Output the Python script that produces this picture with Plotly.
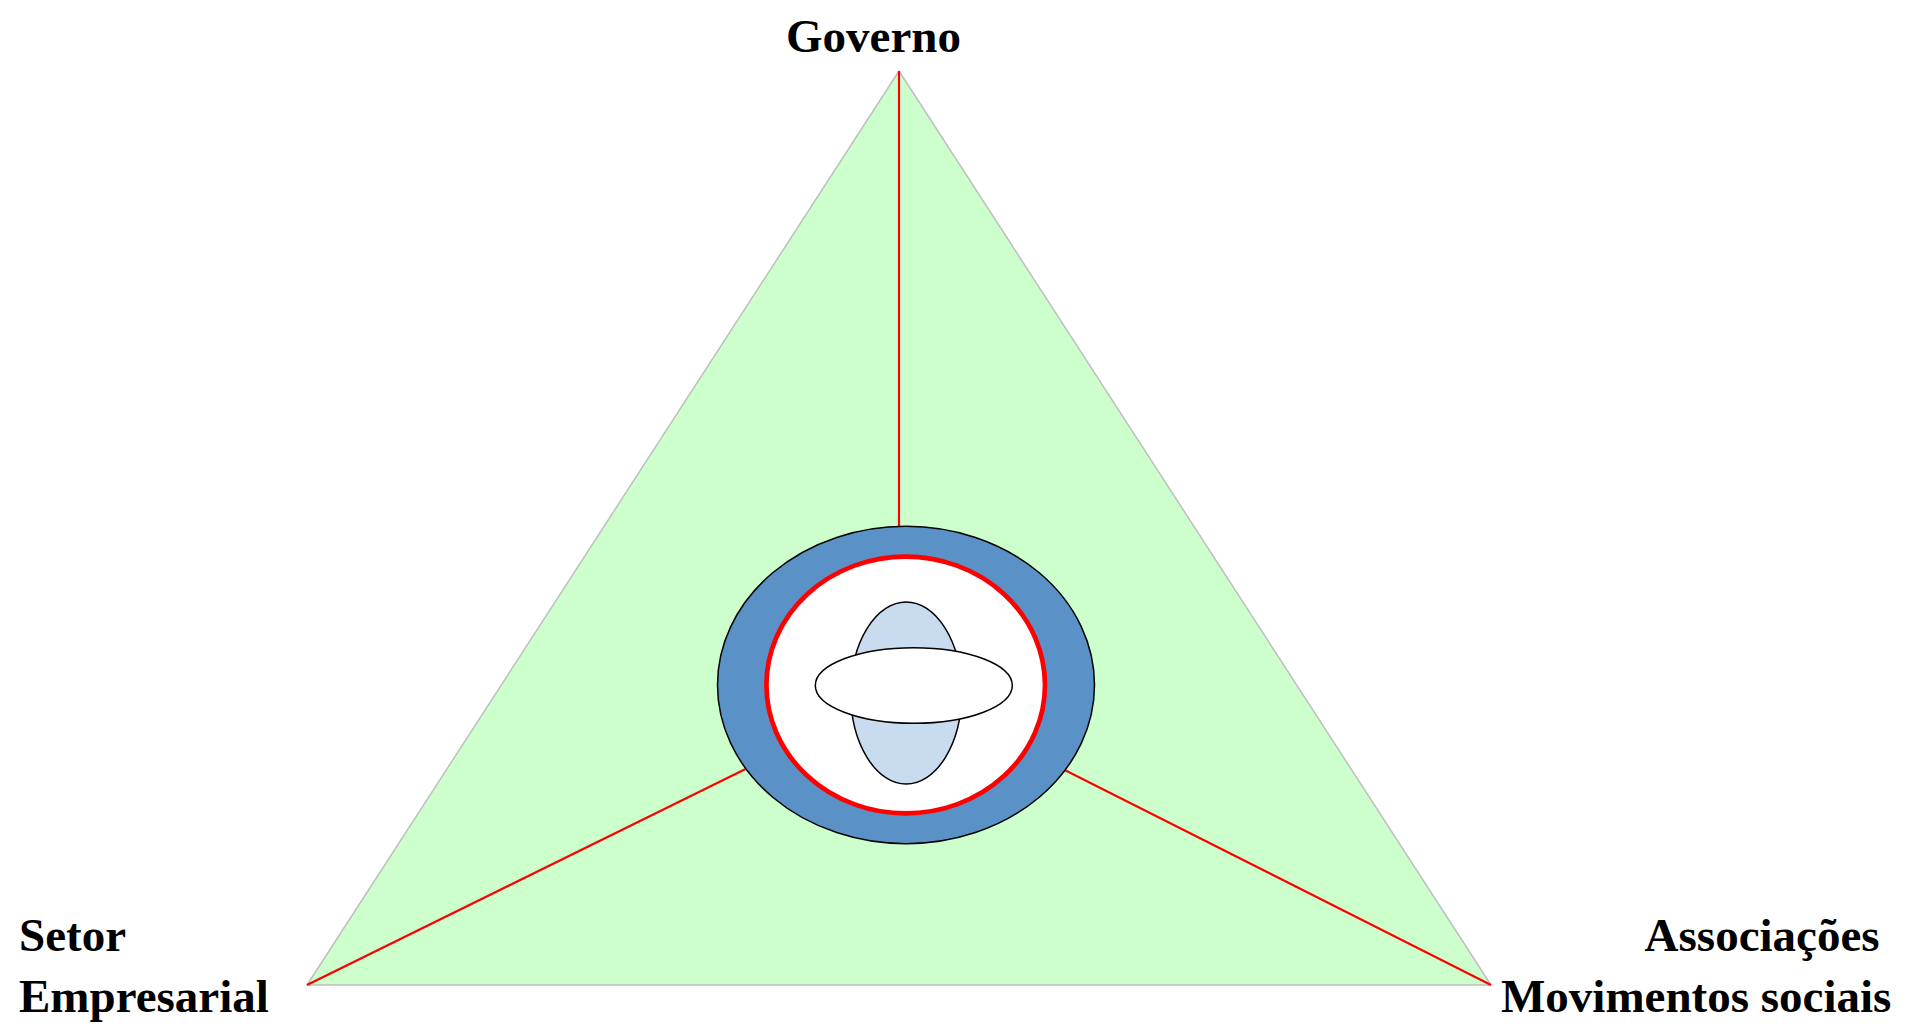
import plotly.graph_objects as go

# Diagram geometry (pixel-like data coordinates, y downward)
vertex_names = ["Governo", "Setor Empresarial", "Associações Movimentos sociais"]
vertex_x = [899, 307, 1491]
vertex_y = [71, 985, 985]
# where each red spoke ends (hidden under the central ellipse)
spoke_end_x = [899, 906, 906]
spoke_end_y = [690, 690, 690]

# ellipses: center x, center y, radius x, radius y
outer_ellipse = [906, 685, 188.5, 158.7]
red_ellipse = [905.7, 685, 139.3, 128.4]
vertical_ellipse = [906.2, 693, 55.5, 91]
horizontal_ellipse = [913.8, 685.5, 98.5, 37.8]

labels = ["Governo", "Setor<br>Empresarial", "Associações <br>Movimentos sociais"]

FONT = "Liberation Serif, Times New Roman, serif"

fig = go.Figure()

# Triangle
fig.add_trace(go.Scatter(
    x=vertex_x + [vertex_x[0]], y=vertex_y + [vertex_y[0]],
    mode="lines", fill="toself", fillcolor="#CCFFCC",
    line=dict(color="#BFBFBF", width=1.5), hoverinfo="skip", showlegend=False))

# Red spokes from each vertex toward the hub
for vx, vy, ex, ey in zip(vertex_x, vertex_y, spoke_end_x, spoke_end_y):
    fig.add_trace(go.Scatter(
        x=[vx, ex], y=[vy, ey], mode="lines",
        line=dict(color="#FF0000", width=2.2), hoverinfo="skip", showlegend=False))

def ellipse(params, fill, line_color, line_width):
    cx, cy, rx, ry = params
    fig.add_shape(type="circle", xref="x", yref="y",
                  x0=cx - rx, x1=cx + rx, y0=cy - ry, y1=cy + ry,
                  fillcolor=fill, line=dict(color=line_color, width=line_width),
                  layer="above")

ellipse(outer_ellipse, "#5A92C8", "#000000", 1.5)
ellipse(red_ellipse, "#FFFFFF", "#FF0000", 4.7)
ellipse(vertical_ellipse, "#C9DBEE", "#000000", 1.5)
ellipse(horizontal_ellipse, "#FFFFFF", "#000000", 1.5)

# Labels
fig.add_annotation(x=873, y=9, text="<b>" + labels[0] + "</b>", showarrow=False,
                   xanchor="center", yanchor="top", borderpad=0,
                   font=dict(family=FONT, size=47, color="#000000"))
fig.add_annotation(x=17, y=1024, text="<b>" + labels[1] + "</b>", showarrow=False,
                   xanchor="left", yanchor="bottom", align="left",
                   font=dict(family=FONT, size=47, color="#000000"))
fig.add_annotation(x=1893, y=1024, text="<b>" + labels[2] + "</b>", showarrow=False,
                   xanchor="right", yanchor="bottom", align="right",
                   font=dict(family=FONT, size=47, color="#000000"))

# ranges offset by the page's 8px body margin so data units equal screen pixels
fig.update_xaxes(range=[8, 1930], visible=False, fixedrange=True)
fig.update_yaxes(range=[1032, 8], visible=False, fixedrange=True)
fig.update_layout(
    width=1922, height=1024,
    margin=dict(l=0, r=0, t=0, b=0),
    paper_bgcolor="#FFFFFF", plot_bgcolor="#FFFFFF",
    showlegend=False,
)

fig.write_html("out.html")
